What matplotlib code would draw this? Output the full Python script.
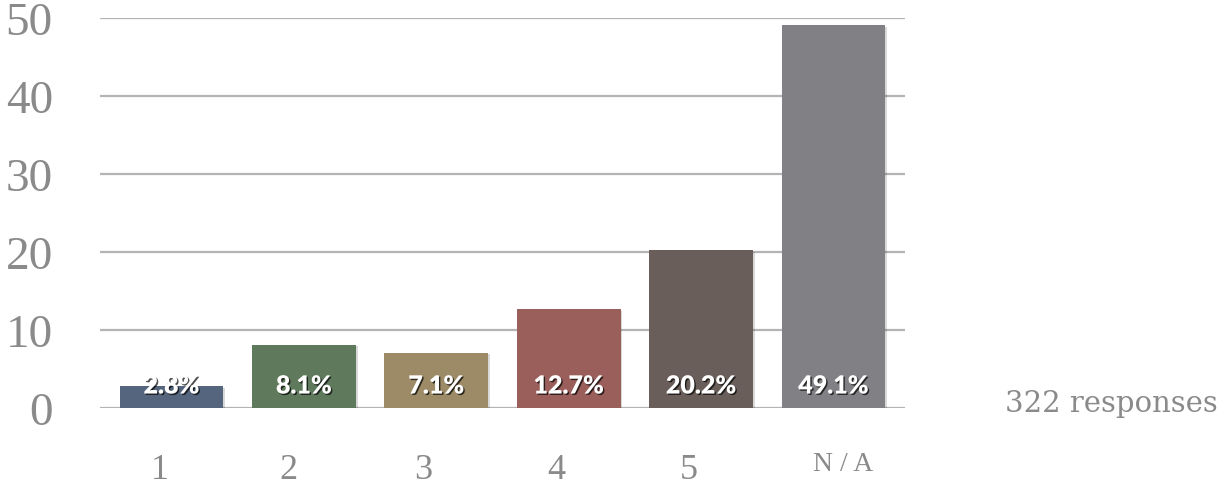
import matplotlib
matplotlib.use("Agg")
import matplotlib.pyplot as plt
import matplotlib.patheffects as pe
import matplotlib.transforms as mtransforms

categories = ["1", "2", "3", "4", "5", "N/A"]
percentages = [2.8, 8.1, 7.1, 12.7, 20.2, 49.1]
bar_colors = ["#55657e", "#5e795b", "#9c8b66", "#9a5e5b", "#6a5e5a", "#808085"]
y_ticks = [0, 10, 20, 30, 40, 50]
response_note = "322 responses"

fig = plt.figure(figsize=(12.17, 4.89), dpi=100)
ax = fig.add_axes([100 / 1217, 80 / 489, 805 / 1217, 390 / 489])

x = list(range(len(categories)))
shadow = [pe.SimplePatchShadow(offset=(1.2, -1.2), shadow_rgbFace="#000000", alpha=0.15), pe.Normal()]
bars = ax.bar(x, percentages, width=0.785, color=bar_colors, zorder=3)
for b in bars:
    b.set_path_effects(shadow)

ax.set_xlim(-0.54, 5.54)
ax.set_ylim(0, 50)
ax.set_yticks(y_ticks)
ax.yaxis.grid(True, color="#b4b4b4", linewidth=1.6, zorder=0)
ax.set_axisbelow(True)
for s in ax.spines.values():
    s.set_visible(False)
ax.tick_params(axis="y", length=0, pad=34, labelsize=34, labelcolor="#8a8a8a")
ax.set_xticks([])
for lbl in ax.get_yticklabels():
    lbl.set_fontfamily("Liberation Serif")

# category labels beneath the bars
trans = mtransforms.blended_transform_factory(ax.transData, fig.transFigure)
offsets = [-0.09, -0.12, -0.1, -0.09, -0.09, 0.07]
for xi, cat, off in zip(x, categories, offsets):
    if cat == "N/A":
        ax.text(xi + off, 1 - 465 / 489, "N / A", transform=trans, ha="center", va="center",
                fontsize=20, color="#8a8a8a", family="Liberation Serif")
    else:
        ax.text(xi + off, 1 - 471 / 489, cat, transform=trans, ha="center", va="center",
                fontsize=26, color="#8a8a8a", family="Liberation Serif")

# percentage labels inside the bars
label_fx = [pe.withSimplePatchShadow(offset=(1, -1), shadow_rgbFace="#000000", alpha=0.7)]
for xi, v in zip(x, percentages):
    ax.text(xi, 2.75, f"{v:.1f}%", ha="center", va="center", fontsize=18, color="white",
            fontweight="heavy", family="Lato", zorder=5, path_effects=label_fx)

fig.text(1005 / 1217, 1 - 404 / 489, response_note, ha="left", va="center",
         fontsize=21, color="#8a8a8a", family="DejaVu Serif")

fig.savefig("out.png", dpi=100)
